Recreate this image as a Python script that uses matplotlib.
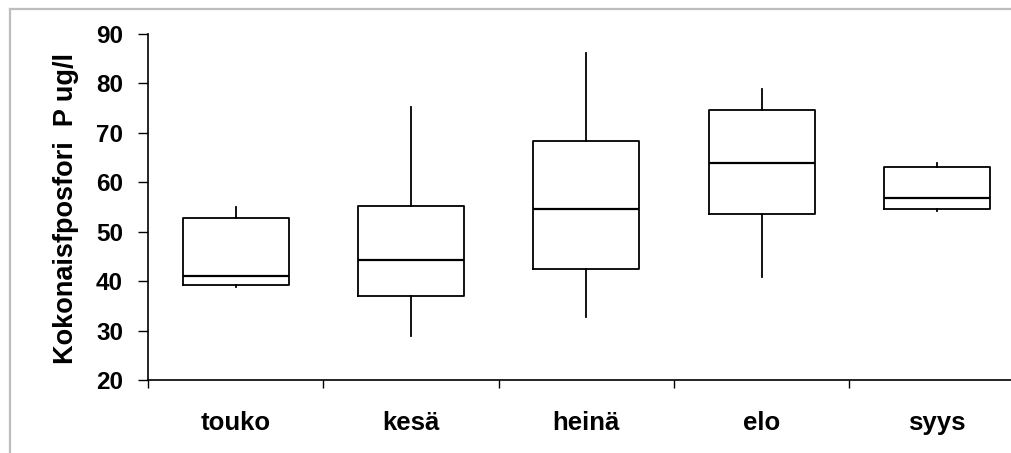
import matplotlib
matplotlib.use("Agg")
import matplotlib.pyplot as plt
from matplotlib.lines import Line2D

categories = ["touko", "kesä", "heinä", "elo", "syys"]
whisker_low = [38.9, 29.0, 32.8, 40.9, 54.2]
q1 = [39.2, 36.9, 42.4, 53.5, 54.5]
median = [41.0, 44.3, 54.5, 64.0, 56.9]
q3 = [52.8, 55.2, 68.4, 74.6, 63.0]
whisker_high = [54.9, 75.2, 86.1, 78.9, 64.0]
yticks = [20, 30, 40, 50, 60, 70, 80, 90]

plt.rcParams['font.family'] = ['Liberation Sans', 'DejaVu Sans']

W, H = 1012, 453
fig = plt.figure(figsize=(W / 100, H / 100), dpi=100)

# light grey chart-area frame (partly visible)
fig.add_artist(Line2D([10 / W, 10 / W], [0, 1 - 9 / H], color="#bdbdbd", lw=1.6))
fig.add_artist(Line2D([10 / W, 1.0], [1 - 9 / H, 1 - 9 / H], color="#bdbdbd", lw=1.6))

x0, y0 = 148, 380
ytop = 34
step = 175.3
ax = fig.add_axes([x0 / W, (H - y0) / H, 5 * step / W, (y0 - ytop) / H])

stats = []
for i, c in enumerate(categories):
    stats.append(dict(label=c, whislo=whisker_low[i], q1=q1[i], med=median[i],
                      q3=q3[i], whishi=whisker_high[i], fliers=[]))

positions = [i + 0.5 for i in range(len(categories))]
ax.bxp(stats, positions=positions, widths=0.605, showcaps=False, showfliers=False,
       boxprops=dict(color="black", lw=1.3),
       whiskerprops=dict(color="black", lw=1.3),
       medianprops=dict(color="black", lw=1.6))

ax.set_xlim(0, 5)
ax.set_ylim(20, 90)
ax.set_yticks(yticks)
ax.set_yticklabels([str(v) for v in yticks], fontsize=17.5, fontweight="bold")
ax.set_xticks(range(0, 6))
ax.set_xticklabels([])
ax.set_xticks(positions, minor=True)
ax.set_xticklabels(categories, minor=True, fontsize=18.5, fontweight="bold")
ax.tick_params(axis="x", which="minor", length=0, pad=22)
ax.tick_params(axis="x", which="major", length=5.8, width=1, direction="out")
ax.tick_params(axis="y", length=7.2, width=1, direction="out", pad=10.8)

for s in ["top", "right"]:
    ax.spines[s].set_visible(False)
ax.spines["left"].set_linewidth(1.2)
ax.spines["bottom"].set_linewidth(1.2)

fig.text(66 / W, 1 - 209 / H, "Kokonaisfposfori  P ug/l", rotation=90,
         ha="center", va="center", fontsize=19.5, fontweight="bold")

fig.savefig("out.png", dpi=100)
